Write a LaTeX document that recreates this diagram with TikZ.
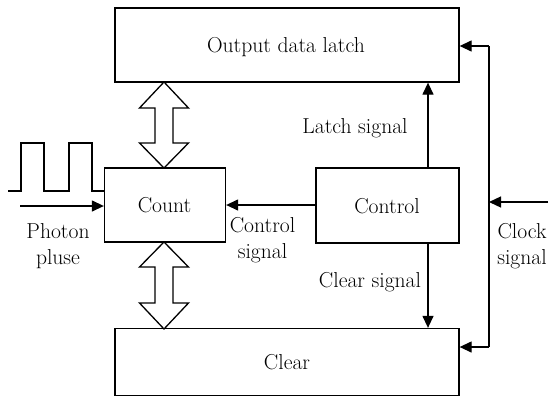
\documentclass[tikz,border=0pt]{standalone}
\usepackage{fontspec}
\usetikzlibrary{arrows.meta}
\begin{document}
\begin{tikzpicture}[x=1pt,y=-1pt,
  box/.style={draw,line width=1.3pt,rectangle,inner sep=0pt},
  lbl/.style={font=\rmfamily\fontsize{21.6}{26}\selectfont,inner sep=0pt,align=center,anchor=base},
  sig/.style={line width=1.3pt,-{Triangle[length=12pt,width=11pt]}},
  dbl/.style={draw,line width=1.3pt,fill=white,line join=miter}]
\useasboundingbox (0,0) rectangle (553,407);
\node[box,minimum width=344pt,minimum height=74pt] (out) at (287,45) {};
\node[lbl] (outt) at (286,52) {Output data latch};
\node[box,minimum width=121pt,minimum height=74pt] (count) at (165,205) {};
\node[lbl] at (164.5,212) {Count};
\node[box,minimum width=143pt,minimum height=75pt] (ctrl) at (387.5,205.5) {};
\node[lbl] at (387,213) {Control};
\node[box,minimum width=344pt,minimum height=67pt] (clr) at (287,362) {};
\node[lbl] at (287,369) {Clear};
% labels (base = last line)
\node[lbl] (photon) at (58,264) {Photon\\pluse};
\node[lbl] (csig) at (262.5,258) {Control\\signal};
\node[lbl] (latch) at (355,133) {Latch signal};
\node[lbl] (clrs) at (370,287) {Clear signal};
\node[lbl] (clock) at (522,264) {Clock\\signal};
% double arrows
\path[dbl] (164,82) -- (188.5,108) -- (173,108) -- (173,143) -- (188.5,143) -- (164,168)
  -- (139.5,143) -- (155,143) -- (155,108) -- (139.5,108) -- cycle;
\path[dbl] (164,242) -- (188.5,267) -- (173,267) -- (173,303) -- (188.5,303) -- (164,329)
  -- (139.5,303) -- (155,303) -- (155,267) -- (139.5,267) -- cycle;
% pulse
\coordinate (p0) at (8,191);
\draw[line width=1.3pt] (p0) -- (21,191) -- (21,143) -- (44,143) -- (44,191) -- (69,191)
  -- (69,143) -- (92,143) -- (92,191) -- (count.west |- 0,191);
\coordinate (ph) at (20,206);
\draw[sig] (ph) -- (count.west |- ph);
% control signal
\draw[sig] (ctrl.west |- 0,205) -- (count.east |- 0,205);
% latch / clear
\draw[sig] (ctrl.north -| 428,0) -- (out.south -| 428,0);
\draw[sig] (ctrl.south -| 428,0) -- (clr.north -| 428,0);
% clock
\coordinate (ck) at (548,202);
\coordinate (ckt) at (489,46);
\coordinate (ckb) at (489,347);
\draw[sig] (ck) -- (489,202);
\draw[line width=1.3pt] (ckt) -- (ckb);
\draw[sig] (ckt) -- (out.east |- ckt);
\draw[sig] (ckb) -- (clr.east |- ckb);
\end{tikzpicture}
\end{document}
